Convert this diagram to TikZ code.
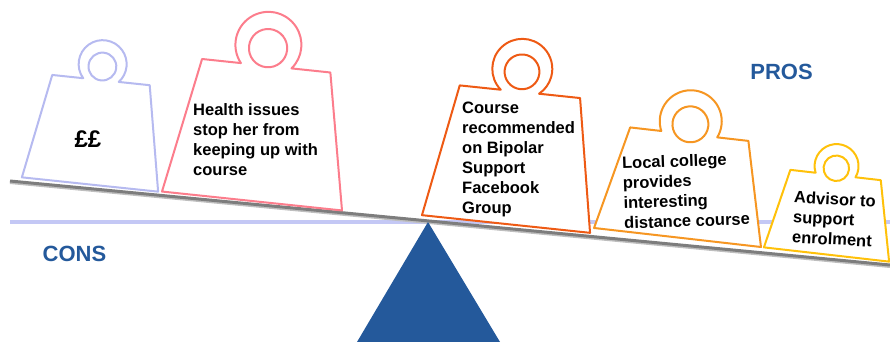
\documentclass[tikz,border=0pt]{standalone}
\usepackage{fontspec}
\setmainfont{Liberation Sans}
\usepackage{tikz}
\usetikzlibrary{positioning,calc}

\definecolor{signblue}{RGB}{36,89,155}
\definecolor{lightbar}{RGB}{196,200,245}
\definecolor{beamgray}{RGB}{125,125,125}
\definecolor{lavw}{RGB}{182,186,240}
\definecolor{pinkw}{RGB}{252,125,140}
\definecolor{redw}{RGB}{238,90,20}
\definecolor{orangew}{RGB}{246,150,34}
\definecolor{yelloww}{RGB}{255,193,10}

% weight: colour, base point, tilt, half bottom, half top, height, ring radius, ring lift
\newcommand{\kettlebell}[8]{%
  \begin{scope}[shift={#2}, rotate=#3]
    \pgfmathsetmacro\neck{sqrt(#7*#7-#8*#8)}% half width of the neck
    \pgfmathsetmacro\ang{asin(#8/#7)}% where the ring meets the top
    \draw[#1, line width=2pt, fill=white, line join=round]
      (-#4,0) -- (-#5,#6) -- ({-\neck},#6)
      arc[start angle={180+\ang}, end angle={-\ang}, radius=#7]
      -- (#5,#6) -- (#4,0) -- cycle;
    \draw[#1, line width=2pt] (0,#6+#8-0.1*#7) circle[radius=0.58*#7];
  \end{scope}}

\tikzset{
  weighttext/.style={inner sep=0pt, anchor=west, align=left,
    font=\fontsize{16.5}{20}\selectfont\bfseries},
  sidetext/.style={inner sep=0pt, text=signblue,
    font=\fontsize{22}{26}\selectfont\bfseries}
}

\begin{document}
\begin{tikzpicture}[x=1pt, y=1pt]
  \useasboundingbox (0,0) rectangle (890,342);

  % level line
  \coordinate (levelL) at (10,120);
  \coordinate (levelR) at (890,120);
  \draw[lightbar, line width=4pt] (levelL) -- (levelR);

  % tilted beam
  \coordinate (beamL) at (10,161);
  \coordinate (beamR) at (890,77);
  \draw[beamgray!50, line width=3pt] ($(beamL)+(0,-1.5)$) -- ($(beamR)+(0,-1.5)$);
  \draw[beamgray, line width=3pt] (beamL) -- (beamR);

  % pivot
  \coordinate (apex) at (428,120);
  \coordinate (footL) at (357,0);
  \coordinate (footR) at (500,0);
  \fill[signblue] (footL) -- (apex) -- (footR) -- cycle;

  % weights on the cons side
  \kettlebell{lavw}{(90,157.5)}{-6}{68.5}{49}{105}{24}{16}
  \kettlebell{pinkw}{(252,141)}{-6}{90.5}{64.5}{136}{33}{21}

  % weights on the pros side
  \kettlebell{redw}{(506,118)}{-6}{84.5}{60.5}{133}{30}{23}
  \kettlebell{orangew}{(677.5,104.5)}{-6.5}{84}{59.5}{104}{31}{13}
  \kettlebell{yelloww}{(826.5,87.5)}{-6.5}{63}{45.5}{80}{22}{9}

  % texts on the weights
  \node[inner sep=0pt, font=\fontsize{24}{28}\selectfont\bfseries] (money) at (88,203) {££};
  \node[weighttext] (health) at (193,202) {Health issues\\stop her from\\keeping up with\\course};
  \node[weighttext] (course) at (462,183) {Course\\recommended\\on Bipolar\\Support\\Facebook\\Group};
  \node[weighttext, rotate=2] (college) at (623,149) {Local college\\provides\\interesting\\distance course};
  \node[weighttext, rotate=-3] (advisor) at (793,125) {Advisor to\\support\\enrolment};

  % side labels
  \node[sidetext] (cons) at (74.5,88) {CONS};
  \node[sidetext] (pros) at (781.5,270.5) {PROS};
\end{tikzpicture}
\end{document}
